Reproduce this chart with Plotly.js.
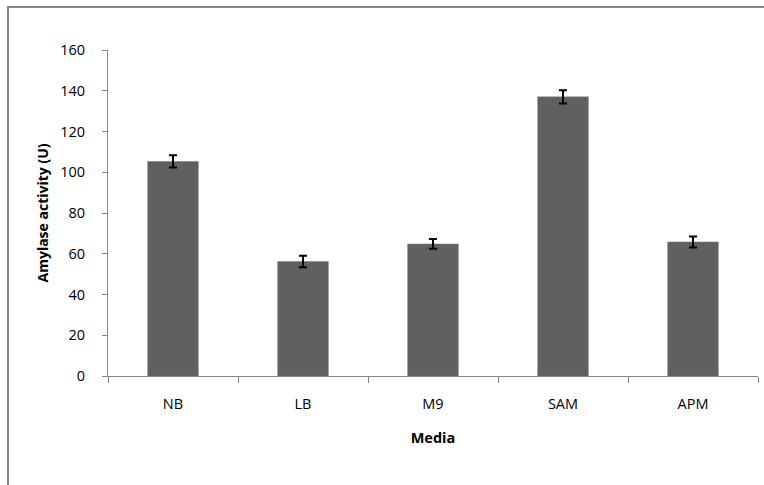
<!DOCTYPE html>
<html>
<head>
<meta charset="utf-8">
<script src="https://cdn.plot.ly/plotly-3.0.1.min.js"></script>
<style>
  html, body { margin: 0; padding: 0; background: #fff; }
  #wrap { position: relative; width: 764px; height: 485px; overflow: hidden; }
  #frame { position: absolute; left: 7px; top: 6px; width: 800px; height: 520px;
           border-left: 2px solid #868686; border-top: 2px solid #868686; }
  #chart { position: absolute; left: 0; top: 0; width: 764px; height: 485px; }
</style>
</head>
<body>
<div id="wrap">
  <div id="frame"></div>
  <div id="chart"></div>
</div>
<script>
const categories = ["NB", "LB", "M9", "SAM", "APM"];
const activity = [105.3, 56.2, 64.8, 137.0, 65.8];
const errors = [3.0, 2.8, 2.4, 3.2, 2.7];
const yTicks = [0, 20, 40, 60, 80, 100, 120, 140, 160];

const trace = {
  type: "bar",
  x: categories,
  y: activity,
  marker: { color: "#606060", line: { color: "#7a7a7a", width: 0.5 } },
  error_y: { type: "data", array: errors, visible: true, color: "#000000", thickness: 2, width: 4 },
  hoverinfo: "x+y"
};

const layout = {
  width: 764,
  height: 485,
  margin: { l: 108, r: 6, t: 50, b: 109 },
  paper_bgcolor: "rgba(0,0,0,0)",
  plot_bgcolor: "rgba(0,0,0,0)",
  showlegend: false,
  bargap: 0.61,
  font: { family: "Open Sans, sans-serif", color: "#000" },
  xaxis: {
    type: "category",
    showline: true,
    linecolor: "#868686",
    linewidth: 1,
    ticks: "outside",
    tickson: "boundaries",
    ticklen: 6,
    tickcolor: "#868686",
    showgrid: false,
    tickfont: { size: 14.5, family: "Open Sans, sans-serif", color: "#000" },
    ticklabelstandoff: 15,
    title: { text: "Media", font: { size: 14.5, family: "Open Sans, sans-serif", weight: "bold", color: "#000" }, standoff: 20 }
  },
  yaxis: {
    range: [0, 160],
    tickvals: yTicks,
    ticktext: yTicks.map(String),
    showline: true,
    linecolor: "#868686",
    linewidth: 1,
    ticks: "outside",
    ticklen: 5,
    tickcolor: "#868686",
    showgrid: false,
    zeroline: false,
    tickfont: { size: 14.5, family: "Open Sans, sans-serif", color: "#000" },
    ticklabelstandoff: 14,
    title: { text: "Amylase activity (U)", font: { size: 14, family: "Open Sans, sans-serif", weight: "bold", color: "#000" }, standoff: 8 }
  }
};

Plotly.newPlot("chart", [trace], layout, { displayModeBar: false, staticPlot: true });
</script>
</body>
</html>
